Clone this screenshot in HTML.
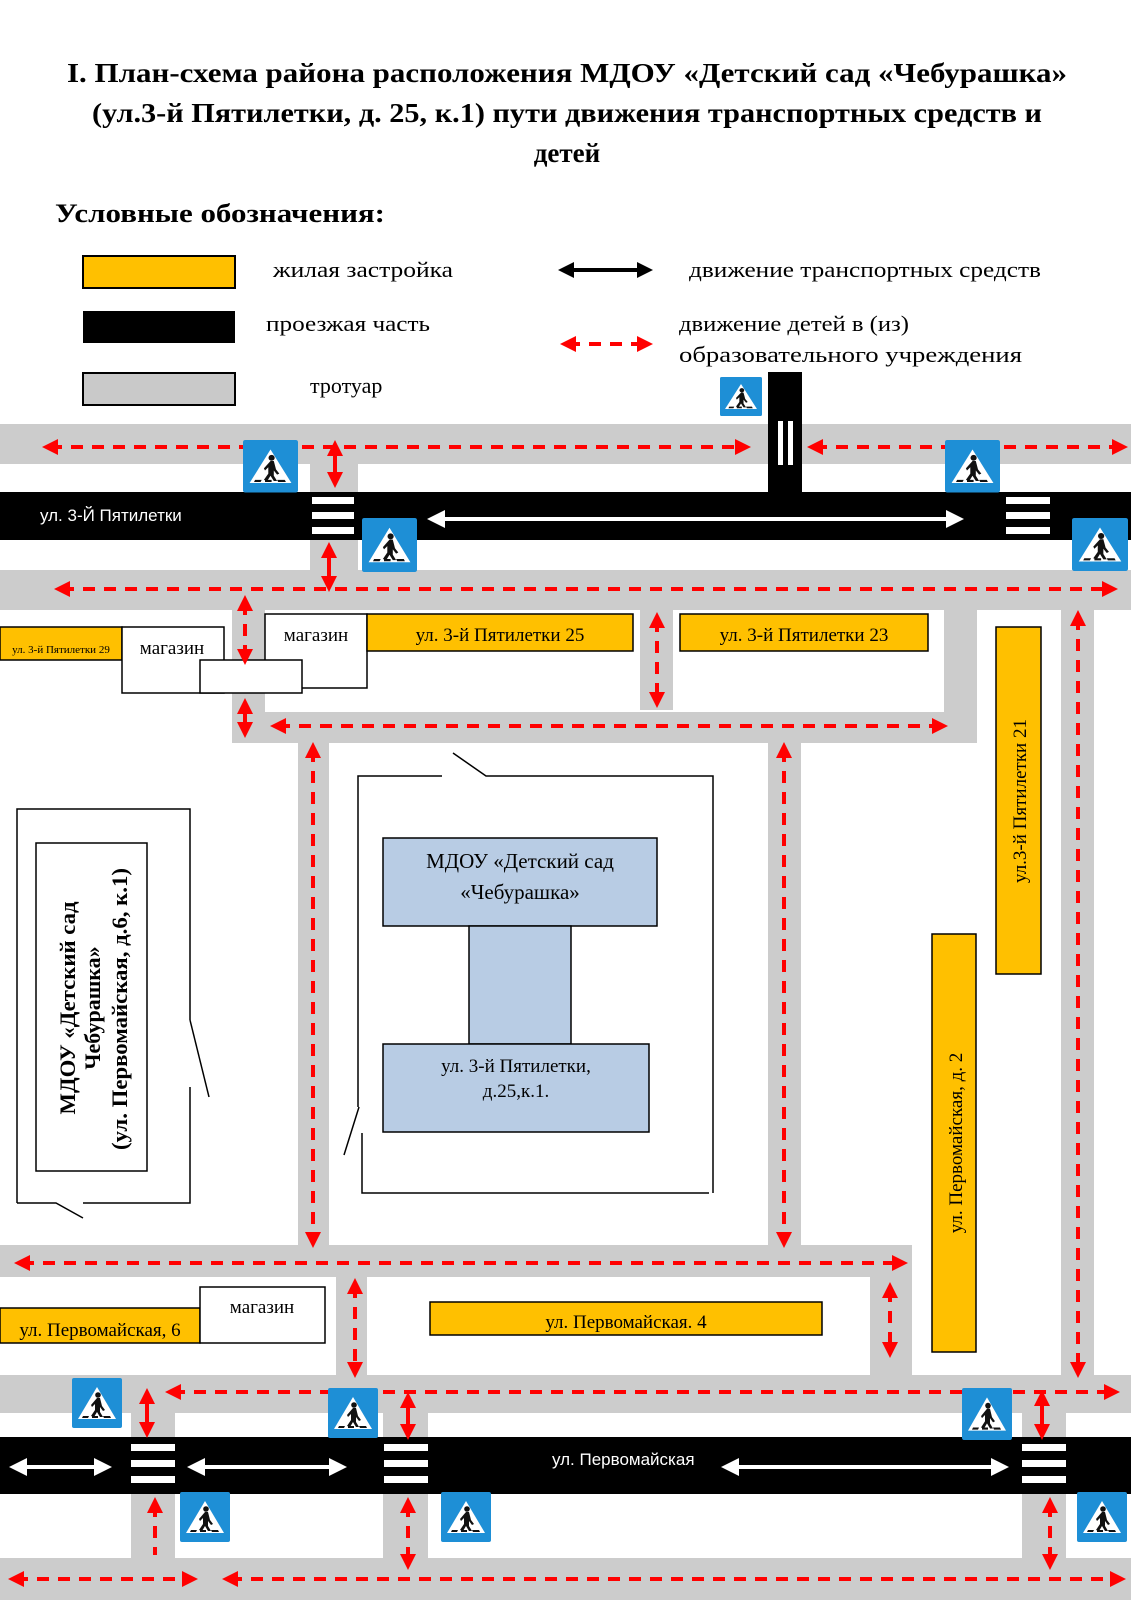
<!DOCTYPE html>
<html><head><meta charset="utf-8"><style>
html,body{margin:0;padding:0;background:#fff}
svg{display:block}
.t{font-family:"Liberation Serif",serif}
.s{font-family:"Liberation Sans",sans-serif}
</style></head><body>
<svg width="1131" height="1600" viewBox="0 0 1131 1600" xmlns="http://www.w3.org/2000/svg">
<defs>
<marker id="ra" viewBox="0 0 10 10" refX="5" refY="5" markerWidth="4" markerHeight="4" orient="auto-start-reverse"><path d="M0,0 L10,5 L0,10 z" fill="#f00"/></marker>
<marker id="wa" viewBox="0 0 10 10" refX="5" refY="5" markerWidth="4.5" markerHeight="4.5" orient="auto-start-reverse"><path d="M0,0 L10,5 L0,10 z" fill="#fff"/></marker>
<marker id="ba" viewBox="0 0 10 10" refX="5" refY="5" markerWidth="4" markerHeight="4" orient="auto-start-reverse"><path d="M0,0 L10,5 L0,10 z" fill="#000"/></marker>
<g id="sign">
<rect x="0" y="0" width="50" height="50" fill="#1e8fd6" rx="2"/>
<path d="M25,9 L44,41 L6,41 z" fill="#fff"/>
<circle cx="26" cy="17" r="2.8" fill="#111"/>
<path d="M25,20 L28,20 L30,28 L33,32 L31,33 L28,29 L28,34 L31,39 L28,39 L25,34 L22,39 L19,38 L23,32 L23,26 L20,29 L19,27 z" fill="#111"/>
<path d="M11,38 h6 l-1,2 h-6z M20,38 h6 v2 h-6z M31,38 h7 l1,2 h-7z" fill="#111"/>
</g>
</defs>

<!-- Title -->
<g class="t" font-weight="bold" font-size="27" text-anchor="middle" fill="#000">
<text x="567" y="82" textLength="1000" lengthAdjust="spacingAndGlyphs">I.   План-схема района расположения МДОУ «Детский сад «Чебурашка»</text>
<text x="567" y="122" textLength="950" lengthAdjust="spacingAndGlyphs">(ул.3-й Пятилетки, д. 25, к.1) пути движения транспортных средств и</text>
<text x="567" y="162">детей</text>
</g>
<text class="t" x="55" y="222" font-weight="bold" font-size="26" textLength="330" lengthAdjust="spacingAndGlyphs">Условные обозначения:</text>

<!-- Legend -->
<rect x="83" y="256" width="152" height="32" fill="#ffc000" stroke="#000" stroke-width="2"/>
<rect x="83" y="311" width="152" height="32" fill="#000"/>
<rect x="83" y="373" width="152" height="32" fill="#c9c9c9" stroke="#000" stroke-width="2"/>
<g class="t" font-size="22" fill="#000">
<text x="273" y="277" textLength="180" lengthAdjust="spacingAndGlyphs">жилая застройка</text>
<text x="266" y="331" textLength="164" lengthAdjust="spacingAndGlyphs">проезжая часть</text>
<text x="310" y="393">тротуар</text>
<text x="689" y="277" textLength="352" lengthAdjust="spacingAndGlyphs">движение транспортных средств</text>
<text x="679" y="331" textLength="230" lengthAdjust="spacingAndGlyphs">движение детей в (из)</text>
<text x="679" y="362" textLength="343" lengthAdjust="spacingAndGlyphs">образовательного учреждения</text>
</g>
<line x1="566" y1="270" x2="645" y2="270" stroke="#000" stroke-width="4" marker-start="url(#ba)" marker-end="url(#ba)"/>
<line x1="568" y1="344" x2="645" y2="344" stroke="#f00" stroke-width="4" stroke-dasharray="12,9" marker-start="url(#ra)" marker-end="url(#ra)"/>

<!-- Gray sidewalks -->
<g fill="#cccccc">
<rect x="0" y="424" width="1131" height="40"/>
<rect x="310" y="464" width="48" height="110"/>
<rect x="0" y="570" width="1131" height="40"/>
<rect x="232" y="610" width="33" height="133"/>
<rect x="640" y="610" width="33" height="100"/>
<rect x="944" y="610" width="33" height="133"/>
<rect x="232" y="712" width="745" height="31"/>
<rect x="1061" y="610" width="33" height="770"/>
<rect x="298" y="743" width="31" height="505"/>
<rect x="768" y="743" width="33" height="505"/>
<rect x="0" y="1245" width="912" height="32"/>
<rect x="336" y="1277" width="31" height="100"/>
<rect x="870" y="1277" width="42" height="100"/>
<rect x="0" y="1375" width="1131" height="38"/>
<rect x="131" y="1413" width="44" height="150"/>
<rect x="383" y="1413" width="45" height="150"/>
<rect x="1022" y="1413" width="44" height="150"/>
<rect x="0" y="1558" width="1131" height="42"/>
</g>

<!-- Roads -->
<rect x="768" y="372" width="34" height="120" fill="#000"/>
<rect x="778" y="421" width="5" height="44" fill="#fff"/>
<rect x="788" y="421" width="5" height="44" fill="#fff"/>
<rect x="0" y="492" width="1131" height="48" fill="#000"/>
<rect x="0" y="1437" width="1131" height="57" fill="#000"/>
<g fill="#fff">
<rect x="312" y="497" width="42" height="7"/><rect x="312" y="512" width="42" height="7"/><rect x="312" y="527" width="42" height="7"/>
<rect x="1006" y="497" width="44" height="7"/><rect x="1006" y="512" width="44" height="7"/><rect x="1006" y="527" width="44" height="7"/>
<rect x="131" y="1444" width="44" height="7"/><rect x="131" y="1460" width="44" height="7"/><rect x="131" y="1476" width="44" height="7"/>
<rect x="384" y="1444" width="44" height="7"/><rect x="384" y="1460" width="44" height="7"/><rect x="384" y="1476" width="44" height="7"/>
<rect x="1022" y="1444" width="44" height="7"/><rect x="1022" y="1460" width="44" height="7"/><rect x="1022" y="1476" width="44" height="7"/>
</g>
<g stroke="#fff" stroke-width="4">
<line x1="436" y1="519" x2="955" y2="519" marker-start="url(#wa)" marker-end="url(#wa)"/>
<line x1="18" y1="1467" x2="103" y2="1467" marker-start="url(#wa)" marker-end="url(#wa)"/>
<line x1="196" y1="1467" x2="338" y2="1467" marker-start="url(#wa)" marker-end="url(#wa)"/>
<line x1="730" y1="1467" x2="1000" y2="1467" marker-start="url(#wa)" marker-end="url(#wa)"/>
</g>
<g class="s" fill="#fff" font-size="17">
<text x="40" y="521">ул. 3-Й Пятилетки</text>
<text x="552" y="1465">ул. Первомайская</text>
</g>

<!-- Buildings -->
<g stroke="#000" stroke-width="1.5">
<rect x="0" y="627" width="122" height="33" fill="#ffc000"/>
<rect x="122" y="627" width="102" height="66" fill="#fff"/>
<rect x="265" y="614" width="102" height="74" fill="#fff"/>
<rect x="200" y="660" width="102" height="33" fill="#fff"/>
<rect x="367" y="614" width="266" height="37" fill="#ffc000"/>
<rect x="680" y="614" width="248" height="37" fill="#ffc000"/>
<rect x="996" y="627" width="45" height="347" fill="#ffc000"/>
<rect x="932" y="934" width="44" height="418" fill="#ffc000"/>
<rect x="0" y="1308" width="200" height="35" fill="#ffc000"/>
<rect x="200" y="1287" width="125" height="56" fill="#fff"/>
<rect x="430" y="1302" width="392" height="33" fill="#ffc000"/>
<rect x="383" y="838" width="274" height="88" fill="#b8cce4"/>
<rect x="469" y="926" width="102" height="118" fill="#b8cce4"/>
<rect x="383" y="1044" width="266" height="88" fill="#b8cce4"/>
<rect x="36" y="843" width="111" height="328" fill="#fff"/>
</g>
<g fill="none" stroke="#000" stroke-width="1.5">
<path d="M442,776 H358 V1107"/>
<path d="M359,1107 L344,1155"/>
<path d="M453,753 L486,776 H713 V1193"/>
<path d="M362,1133 V1193 H709"/>
<path d="M17,1203 V809 H190 V1020"/>
<path d="M190,1020 L209,1097"/>
<path d="M190,1087 V1203 H83"/>
<path d="M17,1203 H56 L83,1218"/>
</g>
<g class="t" font-size="19" fill="#000" text-anchor="middle">
<text x="61" y="653" font-size="11">ул. 3-й Пятилетки 29</text>
<text x="172" y="654">магазин</text>
<text x="316" y="641">магазин</text>
<text x="500" y="641">ул. 3-й Пятилетки 25</text>
<text x="804" y="641">ул. 3-й Пятилетки 23</text>
<text x="262" y="1313">магазин</text>
<text x="100" y="1336">ул. Первомайская, 6</text>
<text x="626" y="1328">ул. Первомайская. 4</text>
<text x="520" y="868" font-size="21">МДОУ «Детский сад</text>
<text x="520" y="899" font-size="21">«Чебурашка»</text>
<text x="516" y="1072">ул. 3-й Пятилетки,</text>
<text x="516" y="1097">д.25,к.1.</text>
<text transform="translate(1026,801) rotate(-90)">ул.3-й Пятилетки 21</text>
<text transform="translate(962,1143) rotate(-90)">ул. Первомайская, д. 2</text>
<g font-weight="bold" font-size="22">
<text transform="translate(75,1008) rotate(-90)" textLength="213" lengthAdjust="spacingAndGlyphs">МДОУ «Детский сад</text>
<text transform="translate(100,1008) rotate(-90)">Чебурашка»</text>
<text transform="translate(127,1009) rotate(-90)" textLength="282" lengthAdjust="spacingAndGlyphs">(ул. Первомайская, д.6, к.1)</text>
</g>
</g>

<!-- Red arrows -->
<g stroke="#f00" stroke-width="4" stroke-dasharray="12,9" fill="none">
<line x1="50" y1="447" x2="743" y2="447" marker-start="url(#ra)" marker-end="url(#ra)"/>
<line x1="815" y1="447" x2="1120" y2="447" marker-start="url(#ra)" marker-end="url(#ra)"/>
<line x1="335" y1="448" x2="335" y2="480" stroke-dasharray="none" marker-start="url(#ra)" marker-end="url(#ra)"/>
<line x1="329" y1="550" x2="329" y2="584" stroke-dasharray="none" marker-start="url(#ra)" marker-end="url(#ra)"/>
<line x1="62" y1="589" x2="1110" y2="589" marker-start="url(#ra)" marker-end="url(#ra)"/>
<line x1="245" y1="603" x2="245" y2="657" marker-start="url(#ra)" marker-end="url(#ra)"/>
<line x1="245" y1="706" x2="245" y2="730" stroke-dasharray="none" marker-start="url(#ra)" marker-end="url(#ra)"/>
<line x1="657" y1="620" x2="657" y2="700" marker-start="url(#ra)" marker-end="url(#ra)"/>
<line x1="278" y1="726" x2="940" y2="726" marker-start="url(#ra)" marker-end="url(#ra)"/>
<line x1="313" y1="750" x2="313" y2="1240" marker-start="url(#ra)" marker-end="url(#ra)"/>
<line x1="784" y1="750" x2="784" y2="1240" marker-start="url(#ra)" marker-end="url(#ra)"/>
<line x1="1078" y1="618" x2="1078" y2="1370" marker-start="url(#ra)" marker-end="url(#ra)"/>
<line x1="22" y1="1263" x2="900" y2="1263" marker-start="url(#ra)" marker-end="url(#ra)"/>
<line x1="355" y1="1286" x2="355" y2="1370" marker-start="url(#ra)" marker-end="url(#ra)"/>
<line x1="890" y1="1290" x2="890" y2="1350" marker-start="url(#ra)" marker-end="url(#ra)"/>
<line x1="173" y1="1392" x2="1112" y2="1392" marker-start="url(#ra)" marker-end="url(#ra)"/>
<line x1="147" y1="1396" x2="147" y2="1430" stroke-dasharray="none" marker-start="url(#ra)" marker-end="url(#ra)"/>
<line x1="408" y1="1400" x2="408" y2="1432" stroke-dasharray="none" marker-start="url(#ra)" marker-end="url(#ra)"/>
<line x1="1042" y1="1398" x2="1042" y2="1432" stroke-dasharray="none" marker-start="url(#ra)" marker-end="url(#ra)"/>
<line x1="155" y1="1505" x2="155" y2="1555" marker-start="url(#ra)"/>
<line x1="408" y1="1505" x2="408" y2="1562" marker-start="url(#ra)" marker-end="url(#ra)"/>
<line x1="1050" y1="1505" x2="1050" y2="1562" marker-start="url(#ra)" marker-end="url(#ra)"/>
<line x1="16" y1="1579" x2="190" y2="1579" marker-start="url(#ra)" marker-end="url(#ra)"/>
<line x1="230" y1="1579" x2="1118" y2="1579" marker-start="url(#ra)" marker-end="url(#ra)"/>
</g>

<!-- Signs -->
<use href="#sign" transform="translate(720,377) scale(0.84,0.78)"/>
<use href="#sign" transform="translate(243,440) scale(1.1,1.05)"/>
<use href="#sign" transform="translate(945,440) scale(1.1,1.05)"/>
<use href="#sign" transform="translate(362,518) scale(1.1,1.08)"/>
<use href="#sign" transform="translate(1072,518) scale(1.12,1.06)"/>
<use href="#sign" transform="translate(72,1378) scale(1,1)"/>
<use href="#sign" transform="translate(328,1388) scale(1,1)"/>
<use href="#sign" transform="translate(962,1388) scale(1,1.04)"/>
<use href="#sign" transform="translate(180,1492) scale(1,1)"/>
<use href="#sign" transform="translate(441,1492) scale(1,1)"/>
<use href="#sign" transform="translate(1077,1492) scale(1,1)"/>
</svg>
</body></html>
